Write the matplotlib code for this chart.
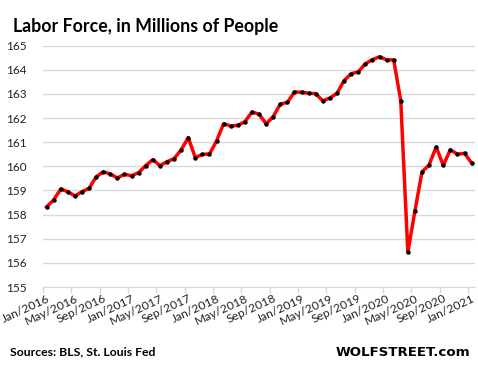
import numpy as np
import matplotlib.pyplot as plt

# Labor force, millions, monthly Jan 2016 - Jan 2021
years = [2016, 2017, 2018, 2019, 2020, 2021]
month_names = ["Jan", "Feb", "Mar", "Apr", "May", "Jun",
               "Jul", "Aug", "Sep", "Oct", "Nov", "Dec"]
labor_force = [
    158.32, 158.61, 159.06, 158.95, 158.77, 158.95, 159.09, 159.56, 159.78, 159.68, 159.52, 159.67,  # 2016
    159.61, 159.74, 160.03, 160.28, 160.03, 160.19, 160.32, 160.68, 161.19, 160.36, 160.50, 160.51,  # 2017
    161.05, 161.77, 161.67, 161.70, 161.85, 162.25, 162.16, 161.76, 162.06, 162.58, 162.65, 163.08,  # 2018
    163.07, 163.03, 163.01, 162.71, 162.83, 163.03, 163.55, 163.84, 163.91, 164.25, 164.42, 164.54,  # 2019
    164.41, 164.41, 162.72, 156.44, 158.15, 159.77, 160.06, 160.80, 160.04, 160.69, 160.50, 160.54,  # 2020
    160.14,  # Jan 2021
]
labels = [f"{m}/{y}" for y in years for m in month_names][:len(labor_force)]
y_ticks = list(range(155, 166))

plt.rcParams['font.family'] = ['Lato', 'DejaVu Sans']

fig = plt.figure(figsize=(4.78, 3.68), dpi=100)
ax = fig.add_axes([0.090, 0.220, 0.904, 0.656])

x = np.arange(len(labor_force))
ax.plot(x, labor_force, color='#ff0000', lw=2.5, zorder=3,
        marker='o', markersize=2.2, markerfacecolor='black', markeredgecolor='black')

ax.set_xlim(-0.5, len(labor_force) - 0.5)
ax.set_ylim(155, 165)
ax.set_yticks(y_ticks)
ax.set_yticklabels([str(v) for v in y_ticks], fontsize=8.5, color='#222222')
ax.grid(axis='y', color='#d9d9d9', lw=1)
ax.set_axisbelow(True)
ax.tick_params(axis='y', length=0, pad=12)

# category ticks between months, labels every 4 months
ax.set_xticks(np.arange(-0.5, len(labor_force), 4))
ax.set_xticklabels([])
ax.set_xticks(x[::4], minor=True)
ax.set_xticklabels(labels[::4], minor=True, rotation=25, ha='right', va='top',
                   rotation_mode='anchor', fontsize=8.7, color='#222222')
ax.tick_params(axis='x', which='major', length=4, color='#d9d9d9', width=1)
ax.tick_params(axis='x', which='minor', length=0, pad=4)

for side in ['left', 'right', 'top']:
    ax.spines[side].set_visible(False)
ax.spines['bottom'].set_color('#d9d9d9')

fig.text(0.027, 0.913, "Labor Force, in Millions of People", fontsize=12.8,
         fontweight='bold', va='baseline', ha='left')
fig.text(0.021, 0.043, "Sources: BLS, St. Louis Fed", fontsize=8.8,
         fontweight='bold', va='center', ha='left')
fig.text(0.983, 0.043, "WOLFSTREET.com", fontsize=9.6, family='DejaVu Sans',
         fontweight='bold', va='center', ha='right')

fig.savefig("out.png", dpi=100)
